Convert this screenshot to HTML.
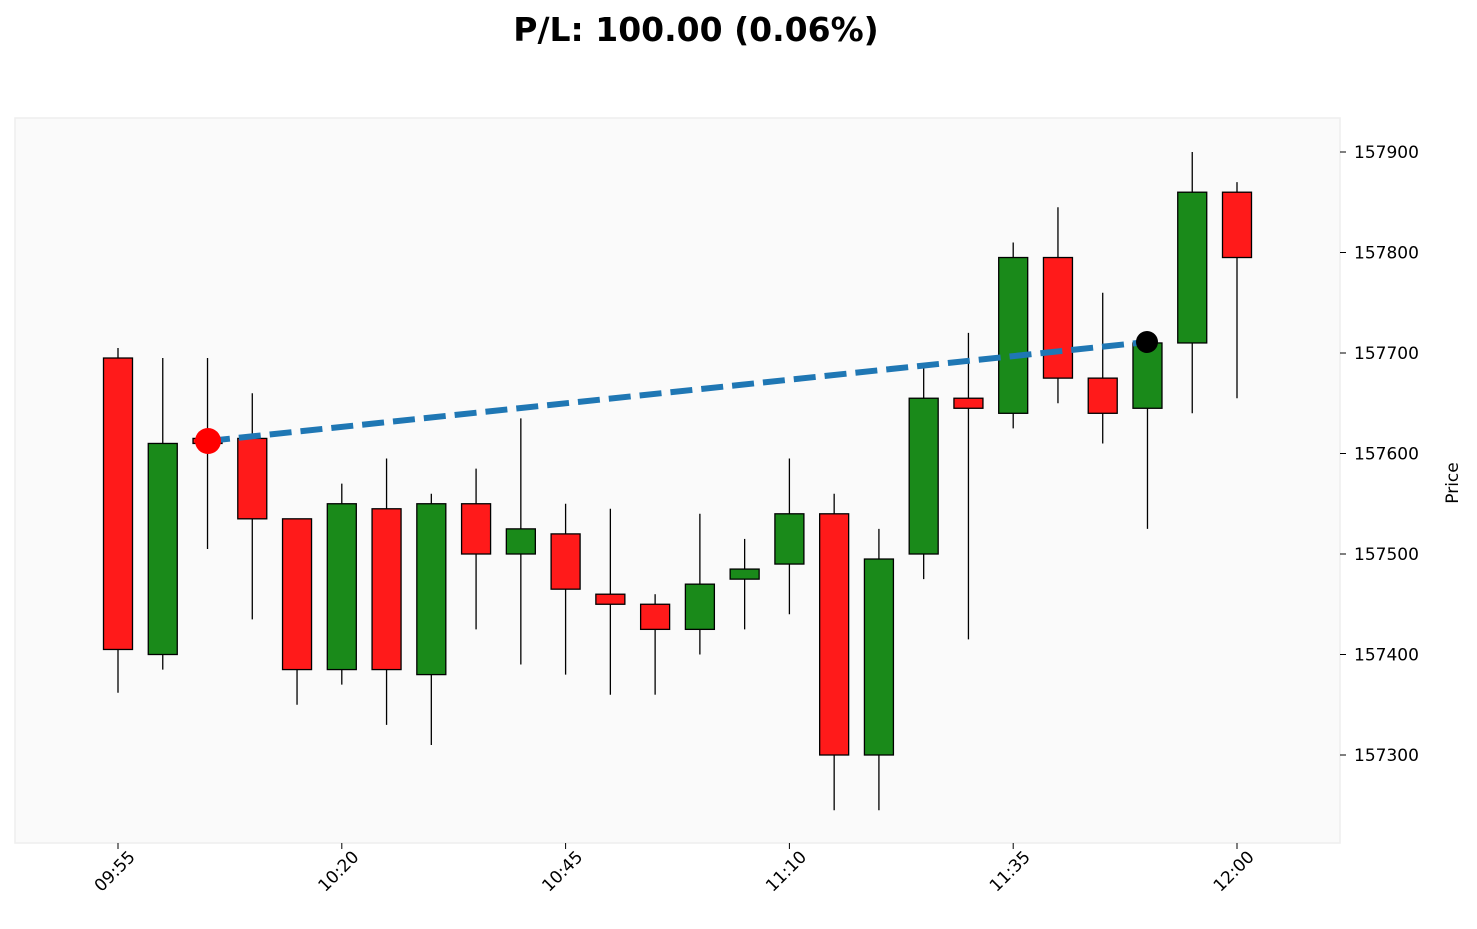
<!DOCTYPE html>
<html><head><meta charset="utf-8"><style>
body{margin:0;background:#fff;}
svg{display:block;font-family:"Liberation Sans","DejaVu Sans",sans-serif;}
</style></head><body>
<svg id="s" width="1477" height="929" xmlns="http://www.w3.org/2000/svg">
<rect x="0" y="0" width="1477" height="929" fill="#fff"/>
<text x="696" y="41" text-anchor="middle" font-size="33" font-weight="bold" font-family="DejaVu Sans, Liberation Sans, sans-serif">P/L: 100.00 (0.06%)</text>
<rect x="15" y="118" width="1325" height="725" fill="#fafafa" stroke="#eee" stroke-width="1.5"/>
<g id="g"></g>
<text transform="translate(1458,483) rotate(-90)" text-anchor="middle" font-size="17" font-family="DejaVu Sans, Liberation Sans, sans-serif">Price</text>
</svg>
<script>
var d=[[157695,157405,157705,157362],[157400,157610,157695,157385],[157615,157610,157695,157505],[157615,157535,157660,157435],[157535,157385,157535,157350],[157385,157550,157570,157370],[157545,157385,157595,157330],[157380,157550,157560,157310],[157550,157500,157585,157425],[157500,157525,157635,157390],[157520,157465,157550,157380],[157460,157450,157545,157360],[157450,157425,157460,157360],[157425,157470,157540,157400],[157475,157485,157515,157425],[157490,157540,157595,157440],[157540,157300,157560,157245],[157300,157495,157525,157245],[157500,157655,157685,157475],[157655,157645,157720,157415],[157640,157795,157810,157625],[157795,157675,157845,157650],[157675,157640,157760,157610],[157645,157710,157710,157525],[157710,157860,157900,157640],[157860,157795,157870,157655]];
function Y(p){return 152+(157900-p)*1.005;}
function X(i){return 118+44.76*i;}
var h='';
d.forEach(function(c,i){var x=X(i),o=c[0],cl=c[1],t=Math.max(o,cl),b=Math.min(o,cl);
h+='<line x1="'+x+'" x2="'+x+'" y1="'+Y(c[2])+'" y2="'+Y(c[3])+'" stroke="#000" stroke-width="1.3"/>';
h+='<rect x="'+(x-14.5)+'" y="'+Y(t)+'" width="29" height="'+Math.max(Y(b)-Y(t),1)+'" fill="'+(cl>=o?'#1a8a1a':'#ff1a1a')+'" stroke="#000" stroke-width="1.3"/>';});
h+='<line x1="208" y1="441" x2="1147" y2="342" stroke="#1f77b4" stroke-width="6" stroke-dasharray="22,9"/>';
h+='<circle cx="208" cy="441" r="13" fill="#f00"/><circle cx="1147" cy="342" r="11" fill="#000"/>';
for(var p=157300;p<=157900;p+=100){var y=Y(p);h+='<line x1="1340" x2="1346" y1="'+y+'" y2="'+y+'" stroke="#000"/><text x="1354" y="'+(y+6)+'" font-size="17" font-family="DejaVu Sans, Liberation Sans, sans-serif">'+p+'</text>';}
var lb=['09:55','10:20','10:45','11:10','11:35','12:00'];
lb.forEach(function(l,k){var x=X(k*5);h+='<line x1="'+x+'" x2="'+x+'" y1="843" y2="849" stroke="#000"/><text transform="translate('+(x+18)+',858) rotate(-45)" text-anchor="end" font-size="17" font-family="DejaVu Sans, Liberation Sans, sans-serif">'+l+'</text>';});
document.getElementById('g').innerHTML=h;
</script>
</body></html>
